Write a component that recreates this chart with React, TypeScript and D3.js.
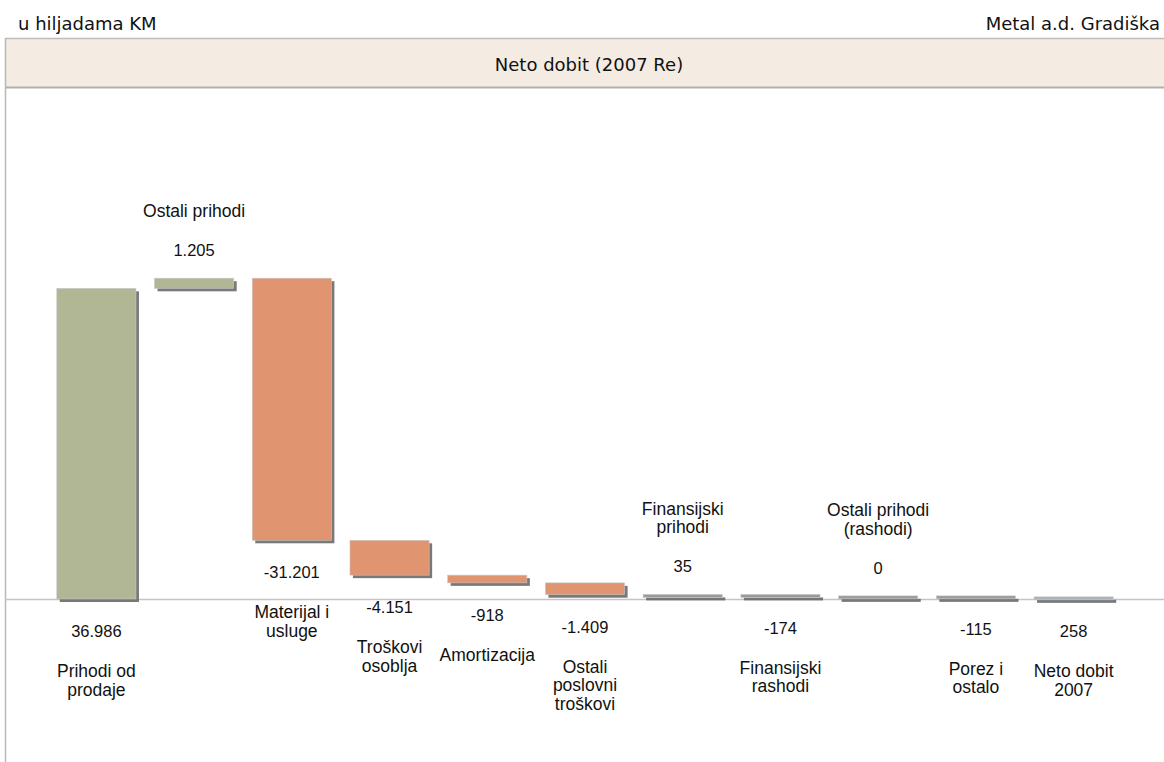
import React from 'react';
import * as d3 from 'd3';

// values in thousands KM
const categories = [
  'Prihodi od\nprodaje',
  'Ostali prihodi',
  'Materijal i\nusluge',
  'Troškovi\nosoblja',
  'Amortizacija',
  'Ostali\nposlovni\ntroškovi',
  'Finansijski\nprihodi',
  'Finansijski\nrashodi',
  'Ostali prihodi\n(rashodi)',
  'Porez i\nostalo',
  'Neto dobit\n2007',
];
const values = [36986, 1205, -31201, -4151, -918, -1409, 35, -174, 0, -115, 258];
const valueLabels = ['36.986', '1.205', '-31.201', '-4.151', '-918', '-1.409', '35', '-174', '0', '-115', '258'];
// 'start' and 'end' bars stand on zero, 'step' bars float on the running total
const kinds = ['start', 'step', 'step', 'step', 'step', 'step', 'step', 'step', 'step', 'step', 'end'];

const W = 1164;
const H = 762;
const baseY = 599;

const GREEN = '#b1b795';
const ORANGE = '#e09470';
const TOTAL = '#a6b2bd';
const THIN = '#9a9a9a';

export default function App() {
  const x = d3
    .scaleBand<number>()
    .domain(d3.range(values.length))
    .range([5, 1165])
    .paddingInner(0.19)
    .paddingOuter(0.53);

  const y = d3.scaleLinear().domain([0, 40000]).range([baseY, baseY - 336]);

  // running totals for the waterfall
  let run = 0;
  const bars = values.map((v, i) => {
    let from: number;
    let to: number;
    if (kinds[i] === 'start') {
      from = 0;
      to = v;
      run = v;
    } else if (kinds[i] === 'end') {
      from = 0;
      to = v;
    } else {
      from = run;
      to = run + v;
      run = to;
    }
    const top = y(Math.max(from, to));
    const bottom = y(Math.min(from, to));
    const below = kinds[i] !== 'step' || v < 0;
    let fill = v >= 0 ? GREEN : ORANGE;
    if (kinds[i] === 'end') fill = TOTAL;
    else if (Math.abs(v) < 300) fill = THIN;
    return { i, v, top, bottom, below, fill };
  });

  const bw = x.bandwidth();
  const font = '"Liberation Sans", Arial, sans-serif';
  const headFont = '"DejaVu Sans", Verdana, sans-serif';

  return (
    <svg width={W} height={H} style={{ position: 'absolute', left: 0, top: 0 }}>
      <rect x={0} y={0} width={W} height={H} fill="#fff" />

      <text x={18} y={30} fontFamily={headFont} fontSize={18} fill="#111">
        u hiljadama KM
      </text>
      <text x={1160} y={30} fontFamily={headFont} fontSize={18} fill="#111" textAnchor="end">
        Metal a.d. Gradiška
      </text>

      {/* title band */}
      <rect x={5} y={38} width={W} height={50} fill="#f4ece2" />
      <line x1={5} x2={W} y1={38.5} y2={38.5} stroke="#bdbdbd" strokeWidth={1.5} />
      <line x1={5} x2={W} y1={87.5} y2={87.5} stroke="#b0b0b0" strokeWidth={2} />
      <line x1={5.5} x2={5.5} y1={38} y2={H} stroke="#b8b8b8" strokeWidth={1.5} />
      <text x={589} y={71} fontFamily={headFont} fontSize={18} fill="#111" textAnchor="middle">
        Neto dobit (2007 Re)
      </text>

      {/* zero line */}
      <line x1={5} x2={W} y1={baseY + 0.5} y2={baseY + 0.5} stroke="#c4c4c4" strokeWidth={1.5} />

      {bars.map((b) => {
        const x0 = x(b.i)!;
        const h = Math.max(3, b.bottom - b.top);
        return (
          <g key={b.i}>
            <rect x={x0 + 3} y={b.top + 3} width={bw} height={h} fill="#6a6a6a" opacity={0.9} />
            <rect x={x0} y={b.top} width={bw} height={h} fill={b.fill} stroke="#c9c9c9" strokeWidth={0.6} />
          </g>
        );
      })}

      {bars.map((b) => {
        const cx = x(b.i)! + bw / 2;
        const lines = categories[b.i].split('\n');
        if (b.below) {
          const vy = b.bottom + 38;
          const cy = vy + 40;
          return (
            <g key={b.i} fill="#111" textAnchor="middle">
              <text x={cx} y={vy} fontFamily={font} fontSize={16.5}>
                {valueLabels[b.i]}
              </text>
              <text x={cx} y={cy} fontFamily={font} fontSize={17.5}>
                {lines.map((l, k) => (
                  <tspan key={k} x={cx} dy={k === 0 ? 0 : 18.5}>
                    {l}
                  </tspan>
                ))}
              </text>
            </g>
          );
        }
        const vy = b.top - 22;
        const lastY = vy - 39;
        const firstY = lastY - (lines.length - 1) * 18.5;
        return (
          <g key={b.i} fill="#111" textAnchor="middle">
            <text x={cx} y={vy} fontFamily={font} fontSize={16.5}>
              {valueLabels[b.i]}
            </text>
            <text x={cx} y={firstY} fontFamily={font} fontSize={17.5}>
              {lines.map((l, k) => (
                <tspan key={k} x={cx} dy={k === 0 ? 0 : 18.5}>
                  {l}
                </tspan>
              ))}
            </text>
          </g>
        );
      })}
    </svg>
  );
}
